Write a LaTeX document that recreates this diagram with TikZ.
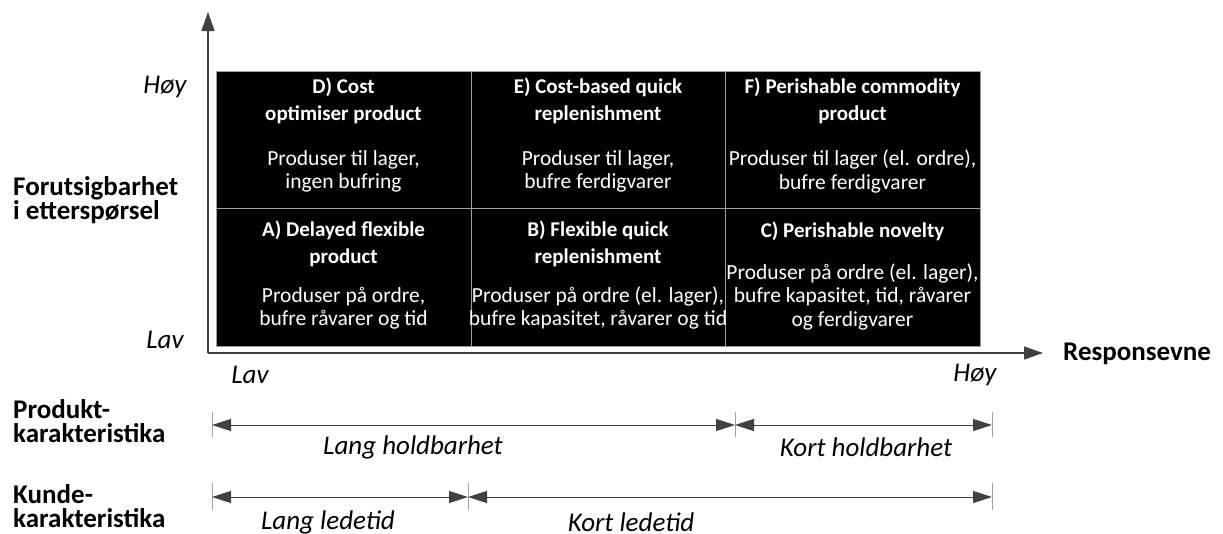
\documentclass[tikz,border=0pt]{standalone}
\usepackage{fontspec}
\setmainfont{Carlito}
\usetikzlibrary{arrows.meta}
\definecolor{axisgray}{HTML}{404040}
\definecolor{gridline}{HTML}{A0A0A0}
\tikzset{
  cell/.style={fill=black, draw=gridline, line width=1pt},
  celltitle/.style={text=white, font=\fontsize{21}{26.5}\selectfont\bfseries, align=center, inner sep=0pt},
  cellbody/.style={text=white, font=\fontsize{21.5}{23.5}\selectfont, align=center, inner sep=0pt},
  axislabel/.style={font=\fontsize{27}{23.5}\selectfont\bfseries, align=left, inner sep=0pt},
  levellabel/.style={font=\fontsize{27}{27}\selectfont\itshape, inner sep=0pt},
  axis/.style={draw=axisgray, line width=1.3pt, -{Triangle[length=19pt,width=13pt]}},
  span/.style={draw=axisgray, line width=1pt, {Triangle[length=19pt,width=12pt]}-{Triangle[length=19pt,width=12pt]}},
  tick/.style={draw=gridline, line width=1pt}
}
\begin{document}
\begin{tikzpicture}[x=1pt,y=-1pt]
\useasboundingbox (0,0) rectangle (1223,533);

% matrix of six strategy cells
\node[cell, minimum width=255pt, minimum height=137pt, inner sep=0pt] (D) at (343.5,139.5) {};
\node[cell, minimum width=254pt, minimum height=137pt, inner sep=0pt] (E) at (598,139.5) {};
\node[cell, minimum width=255pt, minimum height=137pt, inner sep=0pt] (F) at (852.5,139.5) {};
\node[cell, minimum width=255pt, minimum height=138pt, inner sep=0pt] (A) at (343.5,277) {};
\node[cell, minimum width=254pt, minimum height=138pt, inner sep=0pt] (B) at (598,277) {};
\node[cell, minimum width=255pt, minimum height=138pt, inner sep=0pt] (C) at (852.5,277) {};

\node[celltitle] (Dt) at (343.5,101) {D) Cost\\optimiser product};
\node[cellbody]  (Db) at (343.5,171.5) {Produser til lager,\\ingen bufring};
\node[celltitle] (Et) at (598,101) {E) Cost-based quick\\replenishment};
\node[cellbody]  (Eb) at (598,171.5) {Produser til lager,\\bufre ferdigvarer};
\node[celltitle] (Ft) at (852.5,101) {F) Perishable commodity\\product};
\node[cellbody]  (Fb) at (852.5,171.5) {Produser til lager (el. ordre),\\bufre ferdigvarer};

\node[celltitle] (At) at (343.5,244) {A) Delayed flexible\\product};
\node[cellbody]  (Ab) at (343.5,308) {Produser på ordre,\\bufre råvarer og tid};
\node[celltitle] (Bt) at (598,244) {B) Flexible quick\\replenishment};
\node[cellbody]  (Bb) at (598,308) {Produser på ordre (el. lager),\\bufre kapasitet, råvarer og tid};
\node[celltitle] (Ct) at (852.5,231) {C) Perishable novelty};
\node[cellbody]  (Cb) at (852.5,296.5) {Produser på ordre (el. lager),\\bufre kapasitet, tid, råvarer\\og ferdigvarer};

% axes
\coordinate (O) at (208,353);
\coordinate (Ytip) at (208,12);
\coordinate (Xtip) at (1043,353);
\draw[axis] (O) -- (Ytip);
\draw[axis] (O) -- (Xtip);

% axis labels
\node[levellabel] (yhigh) at (165,87) {Høy};
\node[levellabel] (ylow) at (165,340) {Lav};
\node[axislabel, anchor=west] (ylab) at (13,200) {Forutsigbarhet\\i etterspørsel};
\node[levellabel] (xlow) at (250,375) {Lav};
\node[levellabel] (xhigh) at (975,375) {Høy};
\node[axislabel, anchor=west] (xlab) at (1063,354) {Responsevne};

% product characteristics
\node[axislabel, anchor=west] (prod) at (13,421) {Produkt-\\karakteristika};
\coordinate (p1) at (212,425);
\coordinate (p2) at (735,425);
\coordinate (p3) at (992,425);
\foreach \p in {p1,p2,p3} \draw[tick] ([yshift=-12pt]\p) -- ([yshift=13pt]\p);
\draw[span] (p1) -- (p2);
\draw[span] (p2) -- (p3);
\node[levellabel] (lh) at (413,447) {Lang holdbarhet};
\node[levellabel] (kh) at (866,447) {Kort holdbarhet};

% customer characteristics
\node[axislabel, anchor=west] (kunde) at (13,506) {Kunde-\\karakteristika};
\coordinate (k1) at (212,497);
\coordinate (k2) at (468,497);
\coordinate (k3) at (992,497);
\foreach \p in {k1,k2,k3} \draw[tick] ([yshift=-13pt]\p) -- ([yshift=14pt]\p);
\draw[span] (k1) -- (k2);
\draw[span] (k2) -- (k3);
\node[levellabel] (ll) at (328,522) {Lang ledetid};
\node[levellabel] (kl) at (631,522) {Kort ledetid};
\end{tikzpicture}
\end{document}
